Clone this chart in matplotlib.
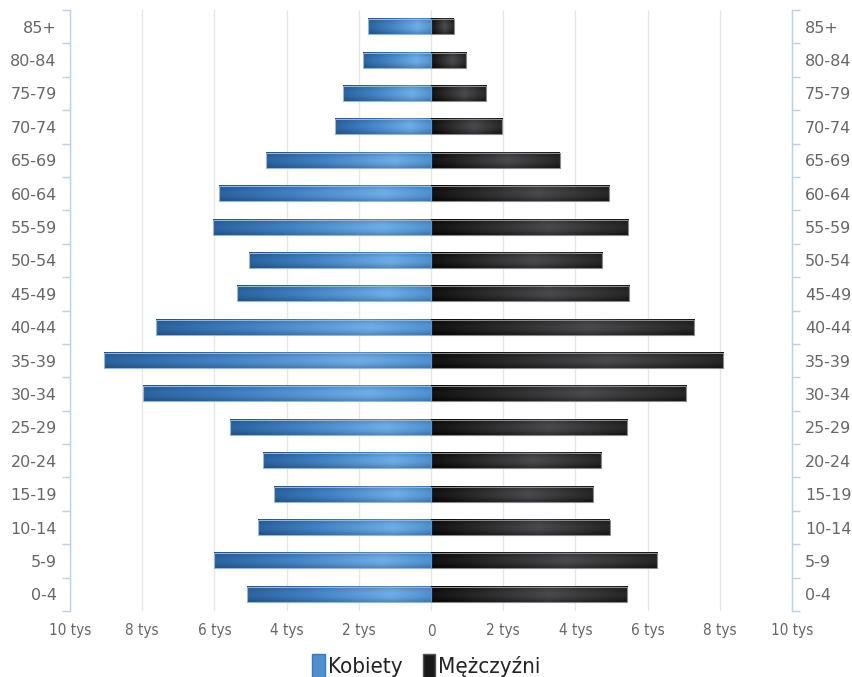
import os
import numpy as np
import matplotlib
matplotlib.use('Agg')
import matplotlib.pyplot as plt
from matplotlib import font_manager as fm
from matplotlib.patches import Patch
from matplotlib.ticker import FixedLocator, FuncFormatter

# age groups, bottom to top
ages = ['0-4', '5-9', '10-14', '15-19', '20-24', '25-29', '30-34', '35-39', '40-44',
        '45-49', '50-54', '55-59', '60-64', '65-69', '70-74', '75-79', '80-84', '85+']
# persons
women = [5100, 6010, 4800, 4360, 4650, 5560, 7990, 9070, 7620,
         5370, 5030, 6030, 5870, 4560, 2650, 2450, 1890, 1750]
men = [5430, 6270, 4950, 4500, 4720, 5430, 7070, 8100, 7290,
       5490, 4750, 5460, 4940, 3560, 1980, 1530, 980, 630]
xticks = list(range(-10000, 10001, 2000))


def find_condensed():
    wanted = ['DejaVuSansCondensed.ttf', 'LiberationSansNarrow-Regular.ttf',
              'RobotoCondensed-Regular.ttf']
    files = {os.path.basename(f.fname): f.fname for f in fm.fontManager.ttflist}
    for w in wanted:
        if w in files:
            return files[w]
    return None


COND = find_condensed()


def cond_font(size):
    if COND:
        return fm.FontProperties(fname=COND, size=size)
    return fm.FontProperties(family='DejaVu Sans', size=size)


def profile(keys, n):
    t = np.linspace(0, 1, n)
    pos = [k[0] for k in keys]
    return np.stack([np.interp(t, pos, [k[1][c] for k in keys]) for c in range(3)], axis=1)


def gradient(kind, n=200, m=24):
    if kind == 'blue':
        # left (outer end) -> right (centre)
        row = profile([(0.0, (0.17, 0.39, 0.63)), (0.35, (0.26, 0.51, 0.77)),
                       (0.78, (0.43, 0.68, 0.91)), (1.0, (0.31, 0.57, 0.82))], n)
    else:
        # left (centre) -> right (outer end)
        row = profile([(0.0, (0.01, 0.01, 0.01)), (0.6, (0.23, 0.23, 0.24)),
                       (1.0, (0.09, 0.09, 0.09))], n)
    v = np.linspace(-1, 1, m)
    fac = 1.0 - 0.22 * v ** 2
    img = row[None, :, :] * fac[:, None, None]
    if kind != 'blue':
        img = img + 0.06 * (1 - v ** 2)[:, None, None]
    return np.clip(img, 0, 1)


W, H = 853, 677
fig = plt.figure(figsize=(W / 100, H / 100), dpi=100)
ax = fig.add_axes([70 / W, 1 - 611 / H, 722 / W, 601 / H])

bh = 0.45
ypos = np.arange(len(ages))
gb = gradient('blue')
gk = gradient('black')
for y, w, m in zip(ypos, women, men):
    ax.imshow(gb, extent=(-w, 0, y - bh / 2, y + bh / 2), aspect='auto',
              interpolation='bilinear', origin='lower', zorder=2)
    ax.imshow(gk, extent=(0, m, y - bh / 2, y + bh / 2), aspect='auto',
              interpolation='bilinear', origin='lower', zorder=2)
ax.barh(ypos, [-w for w in women], height=bh, fill=False, edgecolor='#8fb8e0',
        linewidth=0.8, zorder=3)
ax.barh(ypos, men, height=bh, fill=False, edgecolor='#8a8a8a',
        linewidth=0.8, zorder=3)

ax.set_xlim(-10000, 10000)
ax.set_ylim(-0.5, len(ages) - 0.5)

ax.set_xticks(xticks)
ax.xaxis.set_major_formatter(FuncFormatter(
    lambda v, p: '0' if v == 0 else f'{abs(v) / 1000:.0f} tys'))
for lab in ax.get_xticklabels():
    lab.set_fontproperties(cond_font(11))
    lab.set_color('#666666')
ax.tick_params(axis='x', length=0, pad=9)
ax.grid(axis='x', color='#e6e6e6', linewidth=1)
ax.set_axisbelow(True)

ax.set_yticks(ypos)
ax.set_yticklabels(ages)
ax.yaxis.set_minor_locator(FixedLocator(np.arange(-0.5, len(ages), 1.0)))
ax.tick_params(axis='y', which='major', length=0, pad=9.5, labelsize=11.5,
               labelcolor='#666666', left=True, right=True, labelleft=True, labelright=True)
ax.tick_params(axis='y', which='minor', length=6, width=1, color='#c0d0e0',
               left=True, right=True, direction='out')

for s in ['top', 'bottom']:
    ax.spines[s].set_visible(False)
for s in ['left', 'right']:
    ax.spines[s].set_color('#c0d0e0')
    ax.spines[s].set_linewidth(1)

handles = [Patch(facecolor='#4f8fcf', edgecolor='#3a78b8', label='Kobiety'),
           Patch(facecolor='#1a1a1a', edgecolor='#555555', label='Mężczyźni')]
fig.legend(handles=handles, loc='center', bbox_to_anchor=(0.5, 1 - 666 / H), ncol=2,
           frameon=False, prop=cond_font(16), handlelength=0.55, handleheight=1.3,
           handletextpad=0.15, columnspacing=0.9, labelcolor='#222222')

fig.savefig('out.png', dpi=100)
